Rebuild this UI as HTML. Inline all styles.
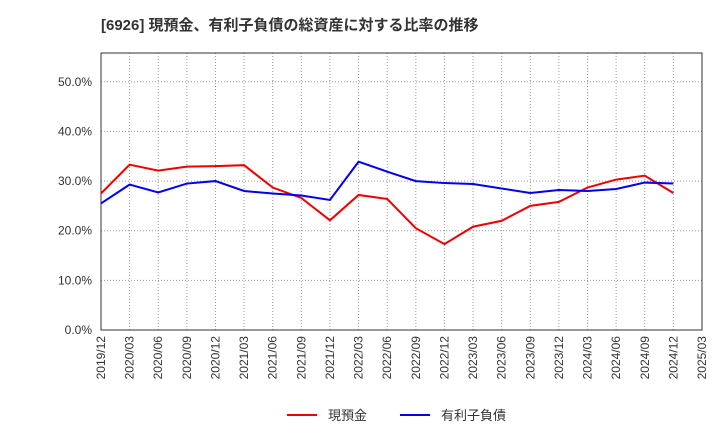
<!DOCTYPE html>
<html><head><meta charset="utf-8"><style>
body{margin:0;background:#fff;font-family:"Liberation Sans","Noto Sans CJK JP",sans-serif;}
</style></head><body>
<svg id="chart" width="720" height="440" xmlns="http://www.w3.org/2000/svg">
<text x="101" y="30" font-size="15" font-weight="bold" fill="#333" font-family="Liberation Sans, Noto Sans CJK JP, sans-serif">[6926]  現預金、有利子負債の総資産に対する比率の推移</text>
<g id="grid"></g><g id="axes"></g><g id="series"></g>
<g>
<line x1="287" y1="415" x2="317" y2="415" stroke="#e00" stroke-width="2"/>
<text x="328" y="420" font-size="13" fill="#333">現預金</text>
<line x1="400" y1="415" x2="430" y2="415" stroke="#00e" stroke-width="2"/>
<text x="441" y="420" font-size="13" fill="#333">有利子負債</text>
</g>
</svg>
<script>
const categories=["2019/12","2020/03","2020/06","2020/09","2020/12","2021/03","2021/06","2021/09","2021/12","2022/03","2022/06","2022/09","2022/12","2023/03","2023/06","2023/09","2023/12","2024/03","2024/06","2024/09","2024/12","2025/03"];
const cashRatio=[27.5,33.3,32.1,32.9,33.0,33.2,28.7,26.6,22.1,27.2,26.4,20.5,17.3,20.8,22.0,25.0,25.8,28.7,30.3,31.1,27.6];
const debtRatio=[25.5,29.3,27.7,29.5,30.0,28.0,27.5,27.1,26.2,33.9,31.9,30.0,29.6,29.4,28.5,27.6,28.2,28.0,28.4,29.7,29.5];
const yTicks=[0,10,20,30,40,50];
const yTickLabels=["0.0%","10.0%","20.0%","30.0%","40.0%","50.0%"];
const X0=101,X1=702,Y0=330,YT=53,YMAX=55.8;
const NS="http://www.w3.org/2000/svg";
function xs(i){return X0+(X1-X0)*i/(categories.length-1);}
function ys(v){return Y0-(Y0-YT)*v/YMAX;}
function mk(tag,attrs,parent){const e=document.createElementNS(NS,tag);for(const k in attrs)e.setAttribute(k,attrs[k]);parent.appendChild(e);return e;}
const grid=document.getElementById('grid'),axes=document.getElementById('axes'),ser=document.getElementById('series');
categories.forEach((c,i)=>{
 const x=xs(i);
 const l=mk('line',{x1:x,y1:YT,x2:x,y2:Y0,stroke:'#999','stroke-dasharray':'1,2','stroke-width':1},grid);
 
 
 const t=mk('text',{x:0,y:0,'font-size':12,fill:'#333','text-anchor':'end',transform:`translate(${x+4},${Y0+6}) rotate(-90)`},axes);
 t.textContent=c;
 
 
});
yTicks.forEach((v,i)=>{
 const y=ys(v);
 const l=mk('line',{x1:X0,y1:y,x2:X1,y2:y,stroke:'#999','stroke-dasharray':'1,2','stroke-width':1},grid);
 
 
 const t=mk('text',{x:X0-9,y:y+4,'font-size':12,fill:'#333','text-anchor':'end'},axes);
 t.textContent=yTickLabels[i];
 
 
});
const fr=mk('rect',{x:X0,y:YT,width:X1-X0,height:Y0-YT,fill:'none',stroke:'#333','stroke-width':1},axes);


function line(data,color,name){
 const p=mk('polyline',{points:data.map((v,i)=>xs(i)+','+ys(v)).join(' '),fill:'none',stroke:color,'stroke-width':2},ser);
 
 
}
line(cashRatio,'#e00','cash-ratio-line');
line(debtRatio,'#00e','debt-ratio-line');
</script>
</body></html>
